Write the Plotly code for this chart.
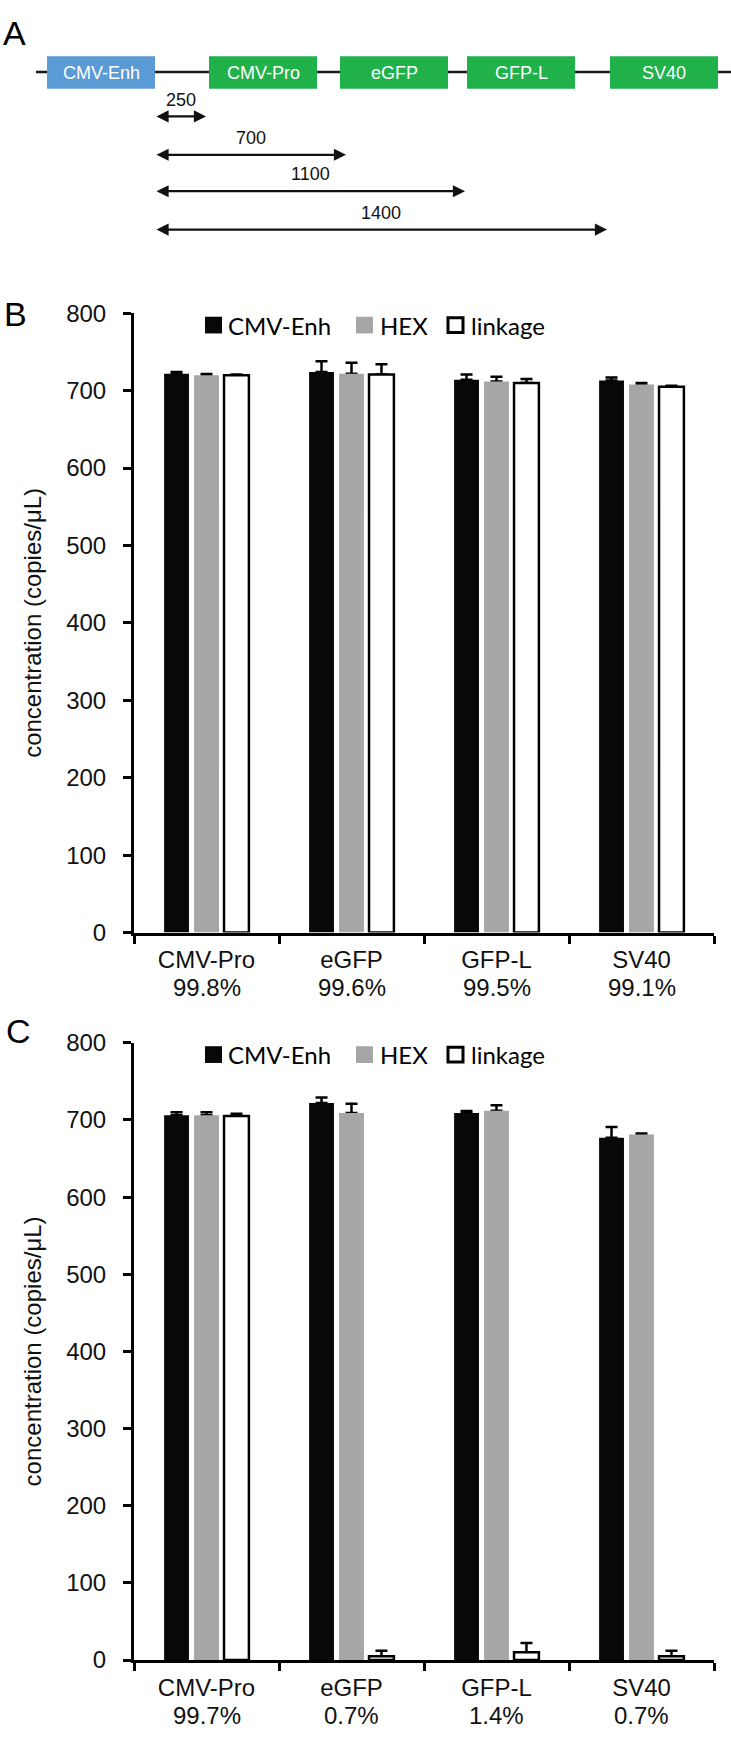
import plotly.graph_objects as go

# ---------------- data ----------------
categories = ["CMV-Pro", "eGFP", "GFP-L", "SV40"]
series_names = ["CMV-Enh", "HEX", "linkage"]

# panel B
pct_B = ["99.8%", "99.6%", "99.5%", "99.1%"]
enh_B = [722, 724, 714, 713]
hex_B = [720, 722, 712, 708]
link_B = [720, 721, 710, 705]
enh_B_err = [2, 14, 7, 4]
hex_B_err = [1.5, 14, 6, 2]
link_B_err = [1, 13, 5, 1.5]

# panel C
pct_C = ["99.7%", "0.7%", "1.4%", "0.7%"]
enh_C = [706, 722, 709, 677]
hex_C = [706, 709, 712, 681]
link_C = [705, 5, 10, 5]
enh_C_err = [4, 7, 2.5, 14]
hex_C_err = [4, 12, 7, 1.5]
link_C_err = [3, 7, 12, 7]

# panel A schematic
elements = ["CMV-Enh", "CMV-Pro", "eGFP", "GFP-L", "SV40"]
distances = [250, 700, 1100, 1400]

# ---------------- layout constants (pixels) ----------------
W, H = 731, 1739
AX_L, AX_R = 134, 714
B_TOP, B_BOT = 304, 933
C_TOP, C_BOT = 1045, 1672

ARIAL = "Liberation Sans, Arial, sans-serif"
LEG_FONT = "Lato, Carlito, Calibri, sans-serif"
fills = ["#070909", "#a6a6a6", "#ffffff"]
outline_w = [0, 0, 2.5]


def py(y):
    return 1 - y / H


def px(x):
    return x / W


fig = go.Figure()


def add_panel(vals, errs, xa, ya):
    # error-bar carriers first (drawn underneath the visible bars)
    for i in range(3):
        fig.add_trace(go.Bar(
            x=categories, y=vals[i], xaxis=xa, yaxis=ya, offsetgroup=str(i),
            marker=dict(color="rgba(0,0,0,0)", line=dict(width=0)),
            error_y=dict(type="data", array=errs[i], arrayminus=[0] * len(errs[i]),
                         symmetric=False, color="#000000", thickness=2.5, width=6),
            showlegend=False, hoverinfo="skip"))
    for i in range(3):
        fig.add_trace(go.Bar(
            x=categories, y=vals[i], xaxis=xa, yaxis=ya, offsetgroup=str(i),
            name=series_names[i],
            marker=dict(color=fills[i], line=dict(color="#000000", width=outline_w[i])),
            showlegend=False))


add_panel([enh_B, hex_B, link_B], [enh_B_err, hex_B_err, link_B_err], "x", "y")
add_panel([enh_C, hex_C, link_C], [enh_C_err, hex_C_err, link_C_err], "x2", "y2")

xaxis_common = dict(
    type="category", showline=True, linecolor="#000000", linewidth=3,
    ticks="outside", tickson="boundaries", ticklen=8, tickwidth=3, tickcolor="#000000",
    showgrid=False, zeroline=False, tickfont=dict(family=ARIAL, size=24, color="#111111"),
    ticklabelstandoff=4, domain=[px(AX_L), px(AX_R)], fixedrange=True)
yaxis_common = dict(
    range=[0, 800], dtick=100, showline=True, linecolor="#000000", linewidth=3,
    ticks="outside", ticklen=8, tickwidth=3, tickcolor="#000000",
    showgrid=False, zeroline=False, tickfont=dict(family=ARIAL, size=24, color="#111111"),
    ticklabelstandoff=12,
    title=dict(text="concentration (copies/μL)", font=dict(family=ARIAL, size=24, color="#111111"),
               standoff=18),
    fixedrange=True)

fig.update_layout(
    xaxis=dict(xaxis_common, anchor="y"),
    yaxis=dict(yaxis_common, anchor="x", domain=[py(B_BOT), py(B_TOP)]),
    xaxis2=dict(xaxis_common, anchor="y2"),
    yaxis2=dict(yaxis_common, anchor="x2", domain=[py(C_BOT), py(C_TOP)]),
    xaxis3=dict(domain=[0, 1], range=[0, W], visible=False, anchor="y3", fixedrange=True),
    yaxis3=dict(domain=[py(240), 1], range=[240, 0], visible=False, anchor="x3", fixedrange=True),
)

shapes = []
annotations = []

# percentage line under each category label
for xa, bot, pct in (("x", B_BOT, pct_B), ("x2", C_BOT, pct_C)):
    for c, p in zip(categories, pct):
        annotations.append(dict(xref=xa, yref="paper", x=c, y=py(bot + 56), text=p,
                                showarrow=False, xanchor="center", yanchor="middle",
                                font=dict(family=ARIAL, size=24, color="#111111")))

# ---------------- panel A schematic ----------------
BOX_X0 = [47, 209, 340, 467, 610]
BOX_W = 108
BOX_Y0, BOX_Y1 = 43, 76
BACKBONE_Y = 59
box_colors = ["#5b9bd5", "#21b14b", "#21b14b", "#21b14b", "#21b14b"]

shapes.append(dict(type="line", xref="x3", yref="y3", x0=36, x1=W, y0=BACKBONE_Y, y1=BACKBONE_Y,
                   line=dict(color="#1a1a1a", width=2.5), layer="below"))
for name, x0, col in zip(elements, BOX_X0, box_colors):
    shapes.append(dict(type="rect", xref="x3", yref="y3", x0=x0, x1=x0 + BOX_W, y0=BOX_Y0, y1=BOX_Y1,
                       fillcolor=col, line=dict(width=0), layer="above"))
    annotations.append(dict(xref="x3", yref="y3", x=x0 + BOX_W / 2, y=(BOX_Y0 + BOX_Y1) / 2,
                            text=name, showarrow=False,
                            font=dict(family=ARIAL, size=18, color="#ffffff")))

ARROW_START = BOX_X0[0] + BOX_W
ARROW_END = [206, 346, 465, 607]
ARROW_Y = [104, 143, 180, 219]
for d, xe, ya in zip(distances, ARROW_END, ARROW_Y):
    annotations.append(dict(xref="x3", yref="y3", axref="x3", ayref="y3",
                            x=xe, y=ya, ax=ARROW_START, ay=ya, text="",
                            showarrow=True, arrowside="end+start",
                            arrowhead=2, startarrowhead=2, arrowsize=1.1, startarrowsize=1.1,
                            arrowwidth=2.2, arrowcolor="#111111"))
    annotations.append(dict(xref="x3", yref="y3", x=(ARROW_START + xe) / 2, y=ya - 17,
                            text=str(d), showarrow=False,
                            font=dict(family=ARIAL, size=18, color="#111111")))

# ---------------- panel letters ----------------
for letter, xx, yy in [("A", 14, 19), ("B", 15, 305), ("C", 18, 1033)]:
    annotations.append(dict(xref="paper", yref="paper", x=px(xx), y=py(yy), text=letter,
                            showarrow=False, xanchor="center", yanchor="middle",
                            font=dict(family=ARIAL, size=34, color="#000000")))

# ---------------- manual legends ----------------
LEG_SQ_X = [205, 356, 447]
LEG_TXT_X = [226, 378, 469]
SQ = 17
for top in (B_TOP, C_TOP):
    yc = top + 12
    for i in range(3):
        inset = 1 if i == 2 else 0
        shapes.append(dict(type="rect", xref="paper", yref="paper",
                           x0=px(LEG_SQ_X[i] + inset), x1=px(LEG_SQ_X[i] + SQ - inset),
                           y0=py(yc + SQ / 2 - inset), y1=py(yc - SQ / 2 + inset),
                           fillcolor=fills[i],
                           line=dict(color="#000000", width=outline_w[i] + (0.5 if i == 2 else 0))))
        annotations.append(dict(xref="paper", yref="paper", x=px(LEG_TXT_X[i]), y=py(yc),
                                text=series_names[i], showarrow=False,
                                xanchor="left", yanchor="middle",
                                font=dict(family=LEG_FONT, size=24, color="#000000")))

fig.update_layout(
    width=W, height=H, margin=dict(l=0, r=0, t=0, b=0),
    paper_bgcolor="#ffffff", plot_bgcolor="#ffffff",
    barmode="group", bargap=0.38, bargroupgap=0.17,
    showlegend=False, shapes=shapes, annotations=annotations,
    font=dict(family=ARIAL, color="#111111"),
)

fig.write_html("out.html", config={"displayModeBar": False},
               post_script="document.body.style.margin='0';")
